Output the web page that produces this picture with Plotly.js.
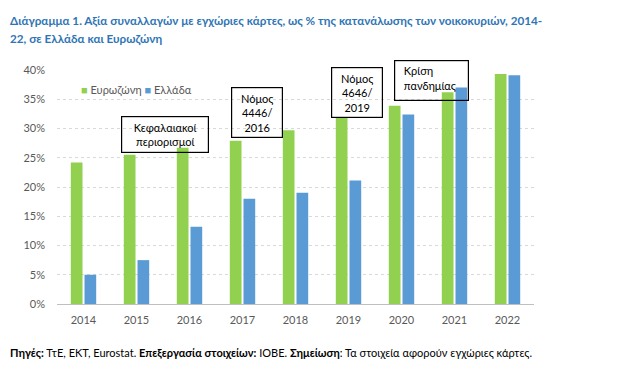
<!DOCTYPE html>
<html><head><meta charset="utf-8">
<script src="https://cdn.plot.ly/plotly-3.0.1.min.js"></script>
<style>body{margin:0;background:#fff}#c{width:633px;height:377px}</style>
</head><body><div id="c"></div>
<script>
const years = ['2014','2015','2016','2017','2018','2019','2020','2021','2022'];
const eurozone = [24.2, 25.5, 26.7, 27.9, 29.7, 31.8, 33.9, 36.2, 39.3];
const greece = [5.0, 7.5, 13.2, 18.0, 19.0, 21.1, 32.4, 37.0, 39.1];
const seriesNames = ['Ευρωζώνη', 'Ελλάδα'];
const seriesColors = ['#92D050', '#5B9BD5'];
const yTicks = [0, 5, 10, 15, 20, 25, 30, 35, 40];
const titleLines = ['Διάγραμμα 1. Αξία συναλλαγών με εγχώριες κάρτες, ως % της κατανάλωσης των νοικοκυριών, 2014-',
                    '22, σε Ελλάδα και Ευρωζώνη'];
const noteText = '<b>Πηγές:</b> ΤτΕ, ΕΚΤ, Eurostat. <b>Επεξεργασία στοιχείων:</b> ΙΟΒΕ. <b>Σημείωση</b>: Τα στοιχεία αφορούν εγχώριες κάρτες.';

const FONT = 'Lato, "Open Sans", sans-serif';
const traces = [
  {type:'bar', name:seriesNames[0], x:years, y:eurozone, marker:{color:seriesColors[0]}},
  {type:'bar', name:seriesNames[1], x:years, y:greece, marker:{color:seriesColors[1]}}
];
const L=57, T=70, W=477, H=234;
function px(x){return (x-L)/W;}
function py(y){return (T+H-y)/H;}
const boxStyle = {xref:'paper', yref:'paper', showarrow:false, bordercolor:'#000', borderwidth:1.2,
  bgcolor:'rgba(255,255,255,0)', font:{family:FONT, size:11, color:'#000'}, borderpad:3, xanchor:'left', yanchor:'top'};
const legendText = seriesNames.map((n,i)=>'<span style="color:'+seriesColors[i]+'">■</span> '+n).join(' ');
const annotations = [
  Object.assign({}, boxStyle, {text:'Κεφαλαιακοί<br>περιορισμοί', x:px(121), y:py(116), width:80, height:29, align:'center', valign:'middle'}),
  Object.assign({}, boxStyle, {text:'Νόμος<br>4446/<br>2016', x:px(231), y:py(87), width:44, height:43, align:'center', valign:'middle'}),
  Object.assign({}, boxStyle, {text:'Νόμος<br>4646/<br>2019', x:px(331), y:py(67), width:44, height:43, align:'center', valign:'middle'}),
  Object.assign({}, boxStyle, {text:'&nbsp;&nbsp;Κρίση<br>&nbsp;&nbsp;πανδημίας', x:px(394), y:py(60), width:67, height:33, align:'left', valign:'top'}),
  {xref:'paper', yref:'paper', showarrow:false, x:px(79), y:py(90), xanchor:'left', yanchor:'middle', align:'left',
   text:legendText, font:{family:FONT, size:11, color:'#595959'}},
  {xref:'paper', yref:'paper', showarrow:false, x:px(8), y:py(20), xanchor:'left', yanchor:'middle', align:'left',
   text:'<b>'+titleLines[0]+'</b>', font:{family:FONT, size:11.7, color:'#2F75B5'}},
  {xref:'paper', yref:'paper', showarrow:false, x:px(8), y:py(38), xanchor:'left', yanchor:'middle', align:'left',
   text:'<b>'+titleLines[1]+'</b>', font:{family:FONT, size:11.7, color:'#2F75B5'}},
  {xref:'paper', yref:'paper', showarrow:false, x:px(8), y:py(352), xanchor:'left', yanchor:'middle', align:'left',
   text:noteText, font:{family:FONT, size:11, color:'#000'}}
];
const layout = {
  width:633, height:377, margin:{l:L, r:633-L-W, t:T, b:377-T-H},
  paper_bgcolor:'#fff', plot_bgcolor:'#fff',
  barmode:'group', bargap:0.483, bargroupgap:0.146,
  xaxis:{type:'category', range:[-0.5,8.5], showline:false, ticks:'', ticklabelstandoff:8,
    tickfont:{family:FONT, size:11, color:'#595959'}},
  yaxis:{range:[0,40], tickvals:yTicks, ticktext:yTicks.map(v=>v+'%'), showgrid:true, gridcolor:'#d9d9d9', griddash:'dot',
    zeroline:true, zerolinecolor:'#bfbfbf', zerolinewidth:1, ticks:'', ticklabelstandoff:11,
    tickfont:{family:FONT, size:11, color:'#595959'}},
  showlegend:false,
  annotations:annotations
};
Plotly.newPlot('c', traces, layout, {displayModeBar:false, staticPlot:true});
</script></body></html>
